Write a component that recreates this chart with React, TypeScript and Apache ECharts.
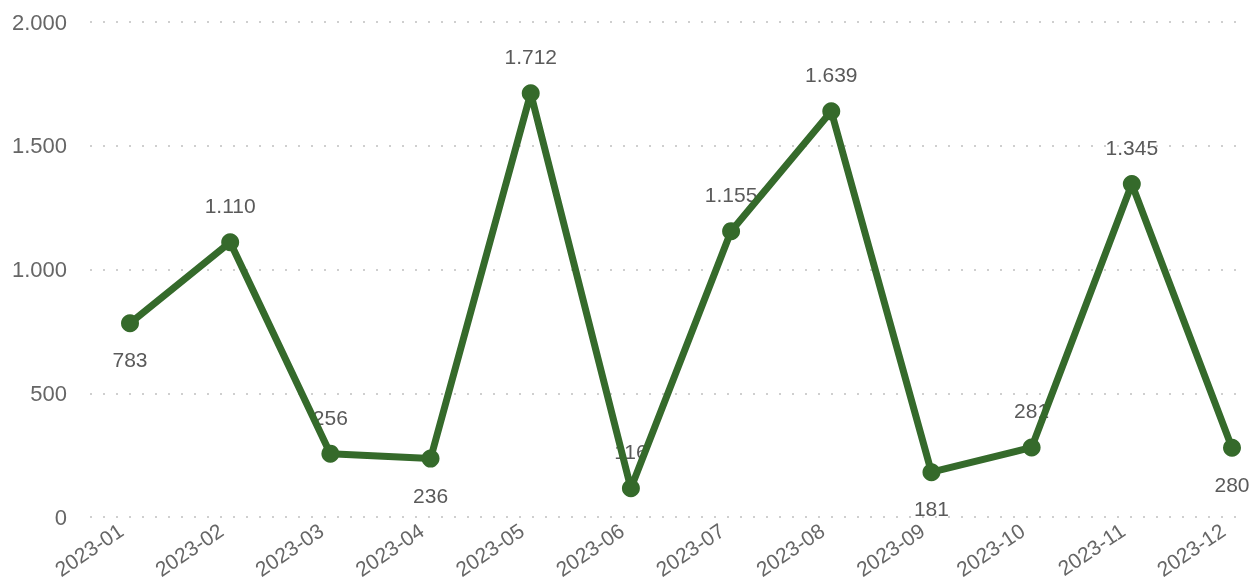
import React, { useEffect, useRef } from "react";
import * as echarts from "echarts";

const months = ["2023-01", "2023-02", "2023-03", "2023-04", "2023-05", "2023-06", "2023-07", "2023-08", "2023-09", "2023-10", "2023-11", "2023-12"];
const values = [783, 1110, 256, 236, 1712, 116, 1155, 1639, 181, 281, 1345, 280];
const labelPositions = ["bottom", "top", "top", "bottom", "top", "top", "top", "top", "bottom", "top", "top", "bottom"];
const yTicks = [0, 500, 1000, 1500, 2000];

const fmt = (v: number) => v.toLocaleString("de-DE");

export default function App() {
  const ref = useRef<HTMLDivElement>(null);
  useEffect(() => {
    if (!ref.current) return;
    const chart = echarts.init(ref.current, undefined, { renderer: "svg" });
    const font = "Liberation Sans, Arial, sans-serif";
    chart.setOption({
      animation: false,
      textStyle: { fontFamily: font },
      grid: [
        { left: 130, right: 21, top: 22, bottom: 66 },
        { left: 90, right: 6, top: 22, bottom: 66 },
      ],
      xAxis: [
        {
          gridIndex: 0,
          type: "category",
          data: months,
          boundaryGap: false,
          axisLine: { show: false },
          axisTick: { show: false },
          splitLine: { show: false },
          axisLabel: { rotate: 34, margin: 5, padding: [0, 11, 0, 0], fontSize: 21, color: "#666", fontFamily: font, interval: 0 },
        },
        {
          gridIndex: 1,
          type: "value",
          show: false,
        },
      ],
      yAxis: [
        {
          gridIndex: 0,
          type: "value",
          min: yTicks[0],
          max: yTicks[yTicks.length - 1],
          interval: 500,
          show: false,
          splitLine: { show: false },
        },
        {
          gridIndex: 1,
          type: "value",
          min: yTicks[0],
          max: yTicks[yTicks.length - 1],
          interval: 500,
          axisLine: { show: false },
          axisTick: { show: false },
          axisLabel: { fontSize: 22, color: "#666", margin: 23, fontFamily: font, formatter: (v: number) => fmt(v) },
          splitLine: { show: true, lineStyle: { color: "#cfcfcf", width: 2, type: [2, 11] } },
        },
      ],
      series: [
        {
          type: "scatter",
          xAxisIndex: 0,
          yAxisIndex: 0,
          z: 1,
          symbolSize: 18,
          itemStyle: { color: "rgba(0,0,0,0)", opacity: 1 },
          data: values.map((v, i) => ({
            value: v,
            label: { position: labelPositions[i] },
          })),
          label: {
            show: true,
            distance: 17,
            fontSize: 21,
            color: "#5a5a5a",
            fontFamily: font,
            formatter: (p: any) => fmt(p.value),
          },
        },
        {
          type: "line",
          xAxisIndex: 0,
          yAxisIndex: 0,
          z: 5,
          data: values,
          symbol: "circle",
          symbolSize: 18,
          lineStyle: { color: "#356a2b", width: 7 },
          itemStyle: { color: "#356a2b" },
          label: { show: false },
        },
      ],
    });
    return () => chart.dispose();
  }, []);
  return <div ref={ref} style={{ position: "fixed", left: 0, top: 0, width: 1253, height: 583 }} />;
}
